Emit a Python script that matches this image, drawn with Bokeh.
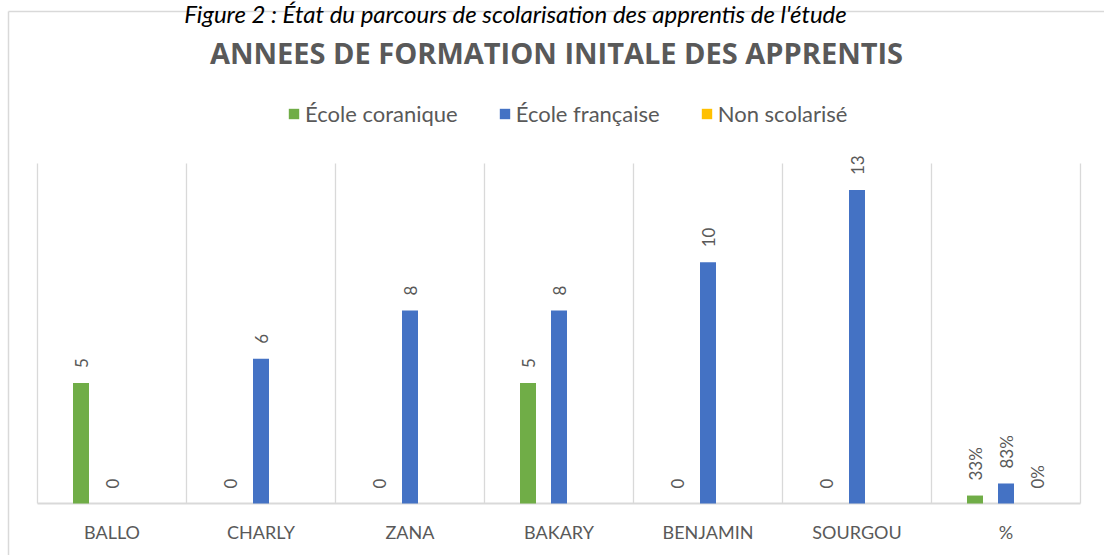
import math
from bokeh.plotting import figure
from bokeh.models import Range1d, ColumnDataSource, Legend, LegendItem, Label
from bokeh.core.properties import value
from bokeh.transform import dodge
from bokeh.embed import file_html
from bokeh.resources import INLINE

# ---------------- data ----------------
caption = "Figure 2 : État du parcours de scolarisation des apprentis de l'étude"
chart_title = "ANNEES DE FORMATION INITALE DES APPRENTIS"
categories = ["BALLO", "CHARLY", "ZANA", "BAKARY", "BENJAMIN", "SOURGOU", "%"]
series_names = ["École coranique", "École française", "Non scolarisé"]
ecole_coranique = [5, 0, 0, 5, 0, 0, 0.33]
ecole_francaise = [0, 6, 8, 8, 10, 13, 0.83]
non_scolarise = [None, None, None, None, None, None, 0]
colors = ["#70AD47", "#4472C4", "#FFC000"]

# ---------------- layout (pixels) ----------------
W, H = 1104, 555
PL, PR, PT, PB = 37, 1080, 163, 503
YMAX = 14.1
CW = (PR - PL) / len(categories)
PPU = (PB - PT) / YMAX
GRAY = "#595959"
LINE = "#d9d9d9"


def X(px):
    return (px - PL) / CW


def Y(py):
    return (PB - py) / PPU


p = figure(width=W, height=H, x_range=Range1d(X(0), X(W)), y_range=Range1d(Y(H), Y(0)),
           x_axis_type=None, y_axis_type=None, toolbar_location=None,
           output_backend="svg", min_border=0, outline_line_color=None)

# outer chart box (left and top edges visible)
p.segment(x0=[X(8), X(8)], y0=[Y(11), Y(11)], x1=[X(8), X(W + 10)], y1=[Y(H + 10), Y(11)],
          line_color=LINE, line_width=1.5)

# category separators and baseline
n = len(categories)
p.segment(x0=list(range(n + 1)), y0=[0] * (n + 1), x1=list(range(n + 1)), y1=[YMAX] * (n + 1),
          line_color=LINE, line_width=1.3)
p.segment(x0=[0], y0=[0], x1=[n], y1=[0], line_color=LINE, line_width=2)

BW = 16 / CW
OFF = 31 / CW
offsets = [-OFF, 0, OFF]
all_series = [ecole_coranique, ecole_francaise, non_scolarise]

items = []
for name, vals, col, off in zip(series_names, all_series, colors, offsets):
    tops = [float("nan") if v is None else v for v in vals]
    labels = []
    for cat, v in zip(categories, vals):
        if v is None:
            labels.append("")
        elif cat == "%":
            labels.append(f"{round(v * 100)}%")
        else:
            labels.append(str(int(v)))
    src = ColumnDataSource(dict(x=[i + 0.5 for i in range(n)], top=tops, label=labels,
                                ly=[0 if v is None else v for v in vals]))
    r = p.vbar(x=dodge("x", off), top="top", width=BW, source=src,
               fill_color=col, line_color=None)
    p.text(x=dodge("x", off), y="ly", text="label", source=src, angle=math.pi / 2,
           text_align="left", text_baseline="middle", y_offset=-15,
           text_font=value("Lato"), text_font_size="17px", text_color=GRAY)
    items.append(LegendItem(label=name, renderers=[r]))

# category labels
p.text(x=[i + 0.5 for i in range(n)], y=[Y(531)] * n, text=categories,
       text_align="center", text_baseline="middle", text_font=value("Lato"),
       text_font_size="18px", text_color=GRAY)

# title
p.add_layout(Label(x=X(556), y=Y(52), text=chart_title, text_align="center",
                   text_baseline="middle", text_font="Open Sans", text_font_style="bold",
                   text_font_size="29px", text_color=GRAY))

# caption
p.add_layout(Label(x=X(515), y=Y(-2), text=caption, text_align="center",
                   text_baseline="top", text_font="Lato", text_font_style="italic",
                   text_font_size="24px", text_color="#000000"))

legend = Legend(items=items, orientation="horizontal", location=(287, 428),
                glyph_width=13, glyph_height=13, label_standoff=5, spacing=40,
                padding=0, margin=0, border_line_color=None, background_fill_alpha=0,
                label_text_font="Lato", label_text_font_size="22px", label_text_color=GRAY)
p.add_layout(legend, "center")

open("out.html", "w").write(file_html(p, INLINE))
